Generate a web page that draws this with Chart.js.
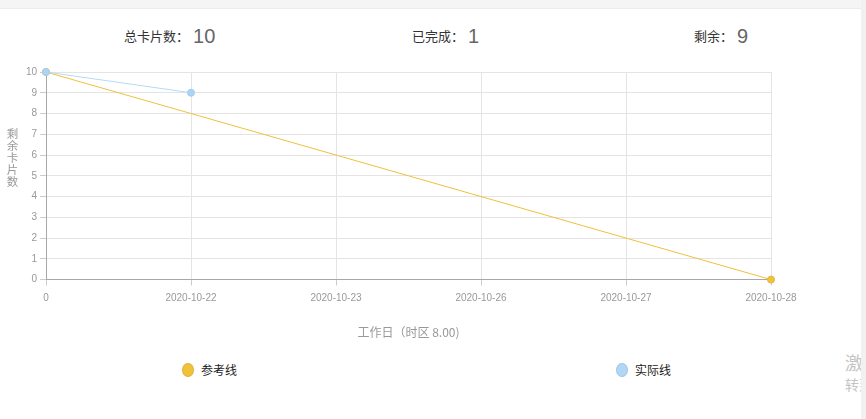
<!DOCTYPE html>
<html>
<head>
<meta charset="utf-8">
<script src="https://cdn.jsdelivr.net/npm/chart.js@4"></script>
<style>
  html, body { margin: 0; padding: 0; width: 866px; height: 419px; overflow: hidden; background: #fff;
    font-family: "Liberation Sans", "Noto Sans CJK SC", sans-serif; }
  #topband { position: absolute; left: 0; top: 0; width: 866px; height: 8px; background: #f5f5f5; border-bottom: 1px solid #ececec; }
  #scroll { position: absolute; left: 861px; top: 0; width: 5px; height: 419px; background: #f1f1f1; }
  .stat { position: absolute; top: 22px; font-size: 13px; color: #333; font-family: "Noto Sans CJK SC", sans-serif; line-height: 28px; white-space: nowrap; }
  .stat b { font-weight: normal; font-size: 20px; color: #666; font-family: "Liberation Sans", sans-serif; vertical-align: top; margin-left: 4px; }
  #wrap { position: absolute; left: 0; top: 55px; width: 860px; height: 285px; }
  #ytitle { position: absolute; left: 6px; top: 127px; width: 13px; font-size: 11.5px; line-height: 12px; color: #999;
    font-family: "Noto Sans CJK SC", sans-serif; text-align: center; }
  .leg { position: absolute; top: 362px; font-size: 12px; color: #222; font-family: "Noto Sans CJK SC", sans-serif; line-height: 16px; white-space: nowrap; }
  .leg i { display: inline-block; width: 10px; height: 12px; border-radius: 50%; vertical-align: -2px; margin-right: 7px; border: 1px solid; }
  #wm { position: absolute; left: 845px; top: 350px; color: #c4c4c4; font-family: "Noto Sans CJK SC", sans-serif; white-space: nowrap; }
</style>
</head>
<body>
<div id="topband"></div>
<div class="stat" id="s1" style="left:124px">总卡片数：<b id="v1"></b></div>
<div class="stat" id="s2" style="left:412px">已完成：<b id="v2"></b></div>
<div class="stat" id="s3" style="left:694px">剩余：<b id="v3"></b></div>
<div id="wrap"><canvas id="c"></canvas></div>
<div id="ytitle">剩<br>余<br>卡<br>片<br>数</div>
<div class="leg" style="left:182px"><i style="background:#f0c23c;border-color:#e2b232"></i>参考线</div>
<div class="leg" style="left:616px"><i style="background:#b3d7f3;border-color:#9fc8ea"></i>实际线</div>
<div id="wm"><div style="font-size:18px;line-height:24px">激活 Windows</div><div style="font-size:14px;line-height:20px">转到"设置"以激活 Windows。</div></div>
<div id="scroll"></div>
<script>
const categories = ["0", "2020-10-22", "2020-10-23", "2020-10-26", "2020-10-27", "2020-10-28"];
const referenceValues = [10, 8, 6, 4, 2, 0];
const actualValues = [10, 9, null, null, null, null];
const referencePointRadius = [3.5, 0, 0, 0, 0, 3.5];
const yTicks = [0, 1, 2, 3, 4, 5, 6, 7, 8, 9, 10];
const totalCards = 10, doneCards = 1, remainingCards = 9;

document.getElementById('v1').textContent = totalCards;
document.getElementById('v2').textContent = doneCards;
document.getElementById('v3').textContent = remainingCards;

new Chart(document.getElementById('c'), {
  type: 'line',
  data: {
    labels: categories,
    datasets: [
      { label: '参考线', data: referenceValues, borderColor: '#f0c03c', backgroundColor: '#f0c23c',
        borderWidth: 1, pointRadius: referencePointRadius, pointBorderWidth: 1, pointBorderColor: '#e6b636',
        tension: 0, order: 2, clip: false },
      { label: '实际线', data: actualValues, borderColor: '#b6daf5', backgroundColor: '#aed4f2',
        borderWidth: 1, pointRadius: 3.5, pointBorderWidth: 1, pointBorderColor: '#a3cdee',
        spanGaps: false, tension: 0, order: 1, clip: false }
    ]
  },
  options: {
    responsive: true, maintainAspectRatio: false, animation: false,
    layout: { padding: { left: 0, right: 89, top: 17, bottom: 0 } },
    plugins: { legend: { display: false }, tooltip: { enabled: false } },
    scales: {
      x: {
        offset: false,
        grid: { color: '#e4e4e4', tickLength: 6, tickColor: '#cccccc' },
        border: { color: '#a8a8a8' },
        ticks: { color: '#999', font: { size: 10, family: 'Liberation Sans' }, maxRotation: 0, autoSkip: false, padding: 7 },
        title: { display: true, text: '工作日（时区 8.00)', color: '#999', font: { size: 12, family: 'Noto Sans CJK SC' }, padding: { top: 14, bottom: 0 } }
      },
      y: {
        min: 0, max: 10,
        afterFit: s => { s.width = 46; },
        afterBuildTicks: s => { s.ticks = yTicks.map(v => ({ value: v })); },
        grid: { color: '#e4e4e4', tickLength: 6, tickColor: '#cccccc' },
        border: { color: '#a8a8a8' },
        ticks: { color: '#999', font: { size: 10, family: 'Liberation Sans' }, padding: 3 }
      }
    }
  }
});
</script>
</body>
</html>
